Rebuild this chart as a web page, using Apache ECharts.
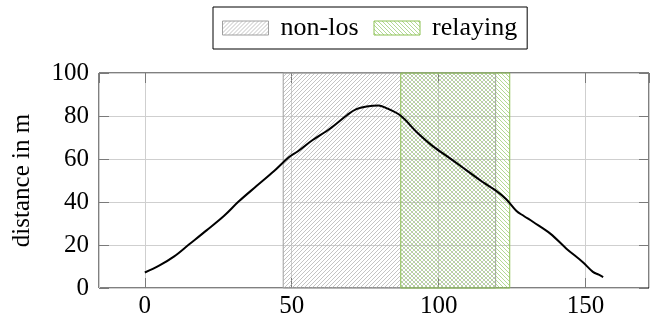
<!DOCTYPE html>
<html>
<head>
<meta charset="utf-8">
<script src="https://cdn.jsdelivr.net/npm/echarts@6/dist/echarts.min.js"></script>
<style>html,body{margin:0;padding:0;background:#fff}#c{width:662px;height:322px}</style>
</head>
<body>
<div id="c"></div>
<script>
// data
const distX = [0, 5, 10, 15, 21, 27, 32, 38, 44, 49, 52, 57, 63, 69, 72, 75.5, 79.5, 82, 87, 92.5, 98, 104, 109.5, 115, 119.5, 123, 126.5, 129, 132.2, 138, 143.5, 149, 152.5, 154.5, 156];
const distY = [7.2, 10.5, 14.7, 20.2, 26.8, 33.6, 40.3, 47.4, 54.4, 60.8, 63.5, 68.7, 74.1, 80.6, 83.2, 84.4, 84.9, 83.8, 80.2, 72.6, 66, 60.2, 54.7, 49.3, 45.3, 41.3, 35.8, 33.5, 30.7, 25.3, 18.3, 12.1, 7.5, 6.2, 5.1];
const regionNames = ['non-los', 'relaying'];
const regionStart = [47.1, 87.1];
const regionEnd = [119.4, 124.2];
const xTicks = [0, 50, 100, 150];
const yTicks = [0, 20, 40, 60, 80, 100];

function hatch(color, dir) {
  const s = 8;
  const c = document.createElement('canvas');
  c.width = s; c.height = s;
  const ctx = c.getContext('2d');
  ctx.strokeStyle = color;
  ctx.lineWidth = 0.7;
  for (let k = -8; k <= 16; k += 4) {
    ctx.beginPath();
    if (dir === 'ne') { ctx.moveTo(k - s, s); ctx.lineTo(k, 0); }
    else { ctx.moveTo(k, 0); ctx.lineTo(k + s, s); }
    ctx.stroke();
  }
  return {image: c, repeat: 'repeat'};
}
const patterns = [hatch('#ababab', 'ne'), hatch('#92c866', 'nw')];
const borders = ['#a0a0a0', '#8cc152'];

const font = 'Liberation Serif';
const chart = echarts.init(document.getElementById('c'));
const axisCommon = {
  type: 'value',
  axisLine: {show: false, onZero: false},
  axisTick: {show: true, inside: true, length: 10, lineStyle: {color: '#7a7a7a', width: 1}},
  splitLine: {show: true, lineStyle: {color: '#cfcfcf', width: 1}},
};
const xMin = -15.6, xMax = 171.6;
const series = [{
  type: 'line',
  name: 'distance',
  data: distX.map((x, i) => [x, distY[i]]),
  showSymbol: false,
  smooth: 0.35,
  lineStyle: {color: '#000', width: 2},
  z: 5
}];
regionNames.forEach((n, i) => {
  series.push({
    type: 'line',
    name: n,
    data: [],
    itemStyle: {color: patterns[i], borderColor: borders[i], borderWidth: 1},
    markArea: {
      silent: true,
      itemStyle: {color: patterns[i], borderColor: borders[i], borderWidth: 1},
      data: [[{xAxis: regionStart[i]}, {xAxis: regionEnd[i]}]]
    }
  });
});
chart.setOption({
  animation: false,
  grid: {left: 99, right: 13, top: 73, bottom: 34, show: true, borderColor: '#000', borderWidth: 1, backgroundColor: 'transparent'},
  legend: {
    data: regionNames.map((n, i) => ({name: n, icon: 'rect', itemStyle: {color: patterns[i], borderColor: borders[i], borderWidth: 1}})),
    left: 213, top: 7,
    padding: [8, 10, 8, 9],
    borderColor: '#000', borderWidth: 1,
    itemWidth: 46, itemHeight: 14, itemGap: 15,
    textStyle: {fontFamily: font, fontSize: 26, color: '#000', padding: [0, 0, 0, 7]}
  },
  xAxis: [
    Object.assign({}, axisCommon, {
      min: xMin, max: xMax, minInterval: 50, maxInterval: 50, position: 'bottom',
      axisLabel: {show: true, showMinLabel: false, showMaxLabel: false, fontFamily: font, fontSize: 25, color: '#000', margin: 6,
        formatter: v => xTicks.indexOf(v) >= 0 ? String(v) : ''}
    }),
    Object.assign({}, axisCommon, {
      min: xMin, max: xMax, minInterval: 50, maxInterval: 50, position: 'top',
      splitLine: {show: false}, axisLabel: {show: false}
    })
  ],
  yAxis: [
    Object.assign({}, axisCommon, {
      min: 0, max: 100, interval: 20, position: 'left',
      name: 'distance in m', nameLocation: 'middle', nameGap: 64,
      nameTextStyle: {fontFamily: font, fontSize: 25, color: '#000'},
      axisLabel: {show: true, fontFamily: font, fontSize: 25, color: '#000', margin: 10,
        formatter: v => yTicks.indexOf(v) >= 0 ? String(v) : ''}
    }),
    Object.assign({}, axisCommon, {
      min: 0, max: 100, interval: 20, position: 'right',
      splitLine: {show: false}, axisLabel: {show: false}
    })
  ],
  series: series
});
</script>
</body>
</html>
